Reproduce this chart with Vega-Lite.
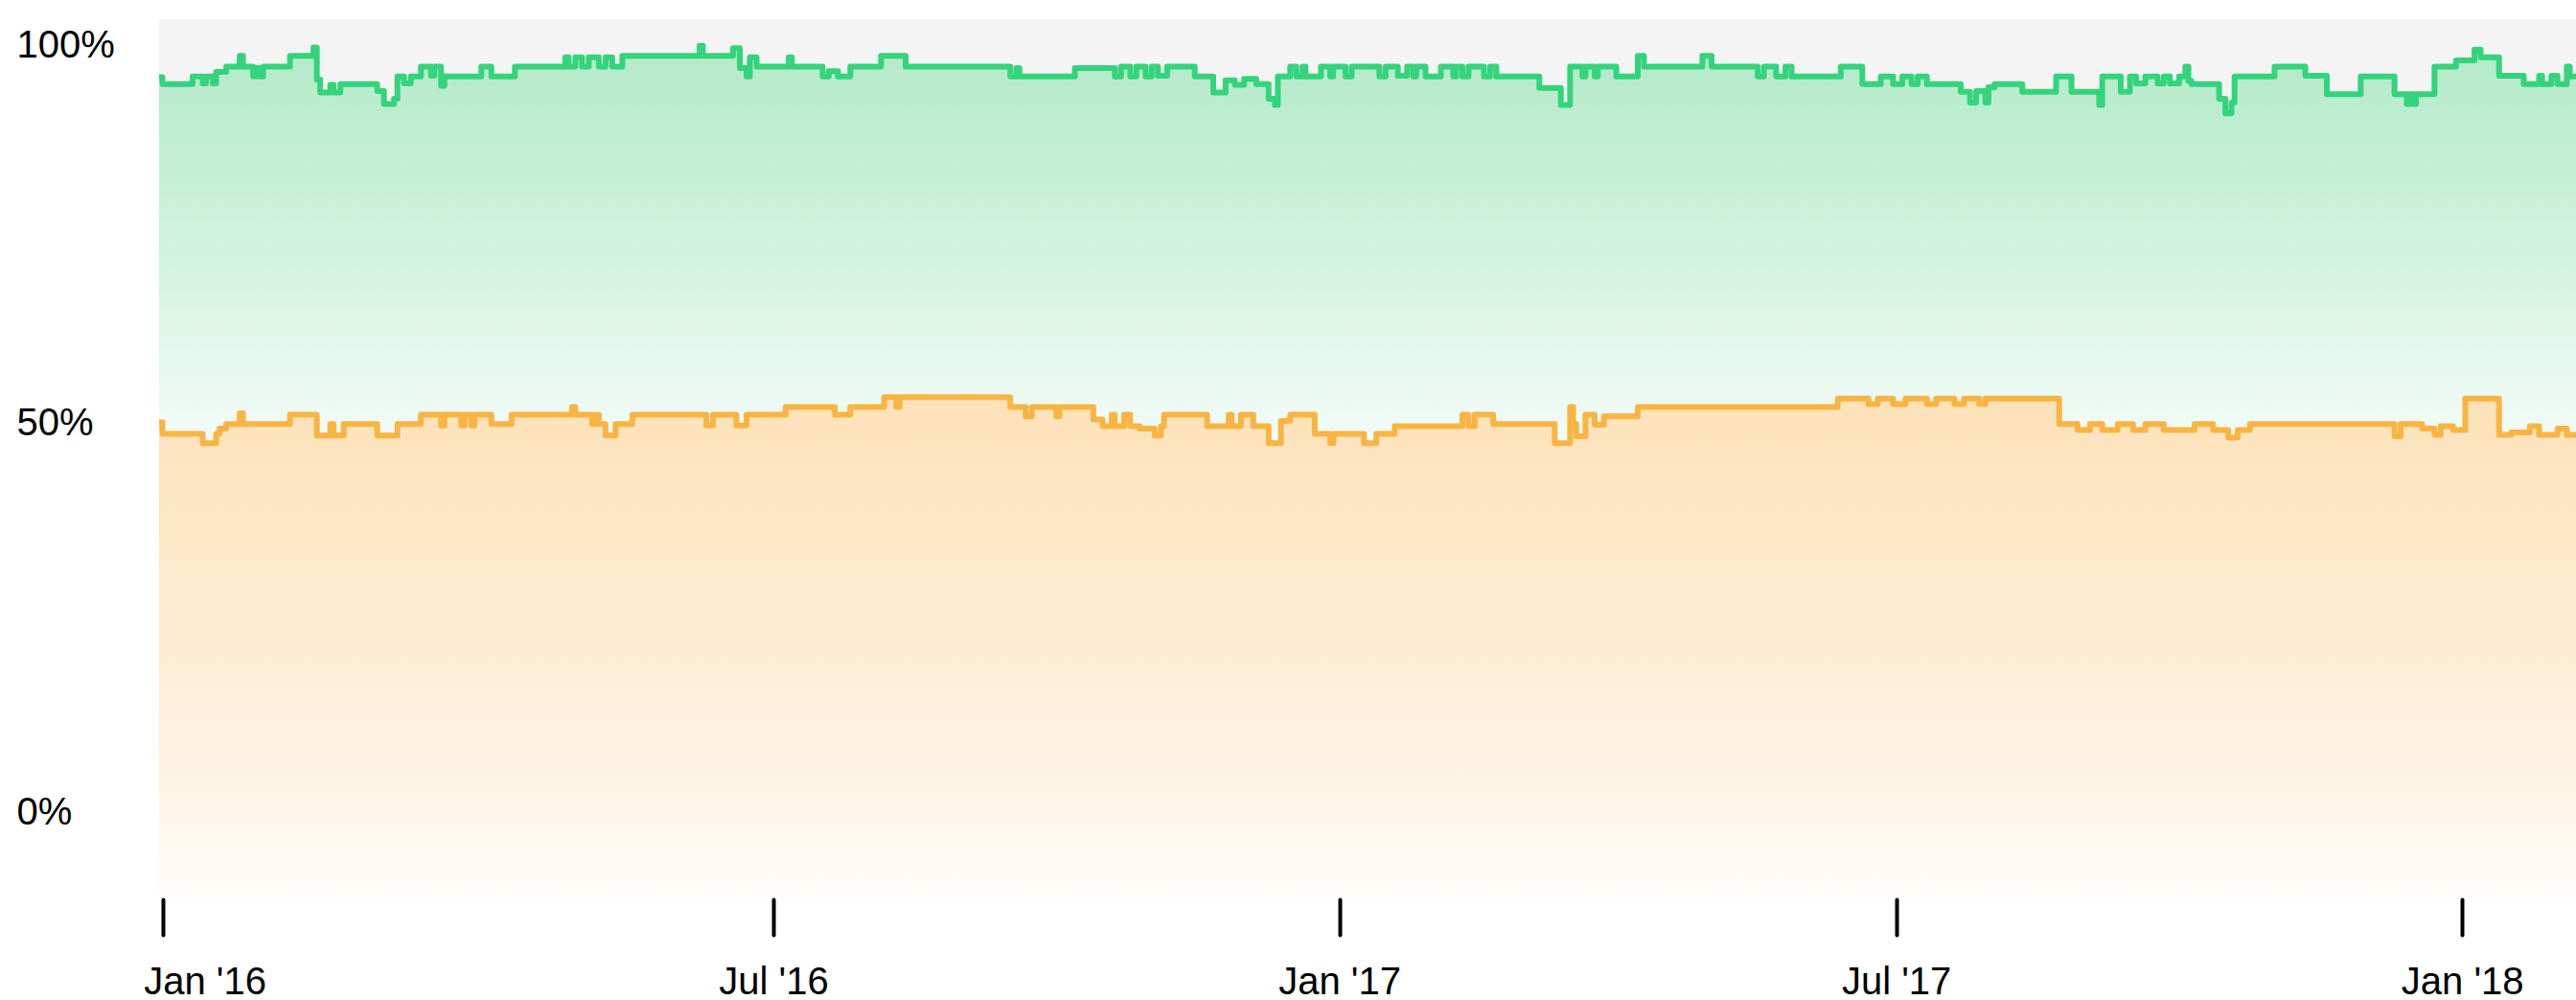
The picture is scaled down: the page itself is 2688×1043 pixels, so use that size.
{
  "$schema": "https://vega.github.io/schema/vega-lite/v6.json",
  "autosize": "none",
  "width": 2522,
  "height": 916,
  "padding": {"left": 166, "top": 20, "right": 0, "bottom": 107},
  "background": "#ffffff",
  "config": {
    "view": {"fill": "#f4f4f4", "stroke": null},
    "axis": {"grid": false, "domain": false, "title": null, "labelFont": "Liberation Sans", "labelFontSize": 40, "labelColor": "#000000"}
  },
  "datasets": {
    "green": [
      {"d":"2015/12/31","v":95.8},{"d":"2016/01/01","v":94.9},{"d":"2016/01/10","v":95.9},{"d":"2016/01/13","v":95.0},{"d":"2016/01/14","v":95.9},{"d":"2016/01/16","v":95.0},{"d":"2016/01/17","v":96.5},{"d":"2016/01/20","v":97.2},{"d":"2016/01/24","v":98.6},{"d":"2016/01/25","v":97.2},{"d":"2016/01/28","v":95.9},{"d":"2016/01/29","v":97.0},{"d":"2016/01/30","v":95.9},{"d":"2016/01/31","v":97.2},
      {"d":"2016/02/08","v":98.6},{"d":"2016/02/15","v":99.7},{"d":"2016/02/16","v":95.5},{"d":"2016/02/17","v":93.8},{"d":"2016/02/20","v":94.8},{"d":"2016/02/21","v":93.8},{"d":"2016/02/23","v":94.9},
      {"d":"2016/03/05","v":94.0},{"d":"2016/03/07","v":92.3},{"d":"2016/03/10","v":93.0},{"d":"2016/03/11","v":95.9},{"d":"2016/03/13","v":95.0},{"d":"2016/03/15","v":95.9},{"d":"2016/03/18","v":97.2},{"d":"2016/03/21","v":96.0},{"d":"2016/03/22","v":97.2},{"d":"2016/03/24","v":94.7},{"d":"2016/03/25","v":95.9},
      {"d":"2016/04/05","v":97.2},{"d":"2016/04/08","v":95.9},{"d":"2016/04/15","v":97.2},{"d":"2016/04/30","v":98.4},{"d":"2016/05/01","v":97.2},{"d":"2016/05/03","v":98.4},{"d":"2016/05/05","v":97.2},{"d":"2016/05/07","v":98.4},{"d":"2016/05/10","v":97.2},{"d":"2016/05/12","v":98.4},{"d":"2016/05/14","v":97.2},{"d":"2016/05/17","v":98.6},
      {"d":"2016/06/09","v":99.9},{"d":"2016/06/10","v":98.6},{"d":"2016/06/19","v":99.6},{"d":"2016/06/21","v":97.0},{"d":"2016/06/23","v":95.9},{"d":"2016/06/24","v":98.4},{"d":"2016/06/26","v":97.2},
      {"d":"2016/07/06","v":98.4},{"d":"2016/07/07","v":97.2},{"d":"2016/07/17","v":95.9},{"d":"2016/07/19","v":96.6},{"d":"2016/07/22","v":95.9},{"d":"2016/07/26","v":97.2},{"d":"2016/08/05","v":98.6},{"d":"2016/08/13","v":97.2},
      {"d":"2016/09/16","v":95.9},{"d":"2016/09/18","v":97.0},{"d":"2016/09/19","v":95.9},{"d":"2016/10/07","v":97.0},{"d":"2016/10/20","v":95.9},{"d":"2016/10/22","v":97.2},{"d":"2016/10/25","v":95.9},{"d":"2016/10/27","v":97.2},{"d":"2016/10/30","v":95.9},{"d":"2016/11/01","v":97.2},{"d":"2016/11/03","v":96.0},{"d":"2016/11/06","v":97.2},{"d":"2016/11/15","v":95.9},{"d":"2016/11/21","v":93.8},{"d":"2016/11/25","v":95.4},{"d":"2016/11/28","v":94.8},
      {"d":"2016/12/01","v":95.6},{"d":"2016/12/05","v":94.9},{"d":"2016/12/09","v":93.0},{"d":"2016/12/11","v":92.2},{"d":"2016/12/12","v":95.9},{"d":"2016/12/16","v":97.2},{"d":"2016/12/18","v":95.9},{"d":"2016/12/20","v":97.2},{"d":"2016/12/21","v":95.9},{"d":"2016/12/26","v":97.2},{"d":"2016/12/29","v":95.9},{"d":"2016/12/30","v":97.2},
      {"d":"2017/01/03","v":95.9},{"d":"2017/01/05","v":97.2},{"d":"2017/01/14","v":95.9},{"d":"2017/01/16","v":97.2},{"d":"2017/01/20","v":96.0},{"d":"2017/01/23","v":97.2},{"d":"2017/01/25","v":95.9},{"d":"2017/01/26","v":97.2},{"d":"2017/01/29","v":95.9},
      {"d":"2017/02/03","v":97.2},{"d":"2017/02/07","v":95.9},{"d":"2017/02/08","v":97.2},{"d":"2017/02/10","v":95.9},{"d":"2017/02/12","v":97.2},{"d":"2017/02/17","v":95.9},{"d":"2017/02/19","v":97.2},{"d":"2017/02/21","v":95.9},
      {"d":"2017/03/07","v":94.4},{"d":"2017/03/14","v":92.2},{"d":"2017/03/17","v":97.2},{"d":"2017/03/21","v":95.9},{"d":"2017/03/22","v":97.2},{"d":"2017/03/25","v":95.9},{"d":"2017/03/26","v":97.2},
      {"d":"2017/04/01","v":95.9},{"d":"2017/04/08","v":98.6},{"d":"2017/04/10","v":97.2},{"d":"2017/04/29","v":98.6},{"d":"2017/05/02","v":97.2},{"d":"2017/05/17","v":95.9},{"d":"2017/05/19","v":97.2},{"d":"2017/05/23","v":95.9},{"d":"2017/05/26","v":97.2},{"d":"2017/05/28","v":95.9},
      {"d":"2017/06/13","v":97.2},{"d":"2017/06/20","v":94.9},{"d":"2017/06/26","v":95.9},{"d":"2017/06/30","v":94.9},{"d":"2017/07/03","v":95.9},{"d":"2017/07/06","v":94.9},{"d":"2017/07/08","v":95.9},{"d":"2017/07/11","v":94.9},{"d":"2017/07/22","v":93.9},{"d":"2017/07/25","v":92.5},{"d":"2017/07/27","v":94.0},{"d":"2017/07/30","v":92.5},{"d":"2017/07/31","v":94.5},
      {"d":"2017/08/02","v":94.9},{"d":"2017/08/11","v":93.9},{"d":"2017/08/22","v":95.9},{"d":"2017/08/27","v":93.9},{"d":"2017/09/05","v":92.2},{"d":"2017/09/06","v":95.9},{"d":"2017/09/12","v":93.9},{"d":"2017/09/15","v":95.9},{"d":"2017/09/17","v":95.0},{"d":"2017/09/20","v":95.9},{"d":"2017/09/24","v":95.0},{"d":"2017/09/26","v":95.9},{"d":"2017/09/28","v":95.0},
      {"d":"2017/10/01","v":95.9},{"d":"2017/10/03","v":97.2},{"d":"2017/10/04","v":95.3},{"d":"2017/10/05","v":94.9},{"d":"2017/10/14","v":93.0},{"d":"2017/10/16","v":91.1},{"d":"2017/10/18","v":92.5},{"d":"2017/10/19","v":95.9},
      {"d":"2017/11/01","v":97.2},{"d":"2017/11/11","v":96.0},{"d":"2017/11/18","v":93.6},{"d":"2017/11/29","v":95.9},{"d":"2017/12/10","v":93.6},{"d":"2017/12/14","v":92.3},{"d":"2017/12/15","v":93.6},{"d":"2017/12/16","v":92.3},{"d":"2017/12/17","v":93.6},{"d":"2017/12/23","v":97.2},{"d":"2017/12/30","v":98.0},
      {"d":"2018/01/05","v":99.4},{"d":"2018/01/07","v":98.4},{"d":"2018/01/13","v":96.0},{"d":"2018/01/21","v":94.9},{"d":"2018/01/26","v":96.0},{"d":"2018/01/27","v":94.9},{"d":"2018/01/30","v":96.0},{"d":"2018/02/01","v":94.9},{"d":"2018/02/04","v":97.2},{"d":"2018/02/05","v":95.9},{"d":"2018/02/07","v":95.9}
    ],
    "orange": [
      {"d":"2015/12/31","v":50.8},{"d":"2016/01/01","v":49.3},{"d":"2016/01/13","v":48.1},{"d":"2016/01/17","v":49.3},{"d":"2016/01/18","v":50.0},{"d":"2016/01/20","v":50.6},{"d":"2016/01/24","v":52.0},{"d":"2016/01/25","v":50.6},
      {"d":"2016/02/08","v":51.8},{"d":"2016/02/16","v":49.1},{"d":"2016/02/20","v":50.6},{"d":"2016/02/21","v":49.1},{"d":"2016/02/24","v":50.6},{"d":"2016/03/05","v":49.1},{"d":"2016/03/11","v":50.6},{"d":"2016/03/18","v":51.8},{"d":"2016/03/24","v":50.4},{"d":"2016/03/25","v":51.8},{"d":"2016/03/30","v":50.4},{"d":"2016/03/31","v":51.8},
      {"d":"2016/04/02","v":50.4},{"d":"2016/04/03","v":51.8},{"d":"2016/04/08","v":50.6},{"d":"2016/04/14","v":51.8},{"d":"2016/05/02","v":52.8},{"d":"2016/05/03","v":51.8},{"d":"2016/05/08","v":50.6},{"d":"2016/05/09","v":51.8},{"d":"2016/05/10","v":50.6},{"d":"2016/05/12","v":49.1},{"d":"2016/05/15","v":50.6},{"d":"2016/05/20","v":51.8},
      {"d":"2016/06/11","v":50.4},{"d":"2016/06/13","v":51.8},{"d":"2016/06/20","v":50.4},{"d":"2016/06/23","v":51.8},{"d":"2016/07/05","v":52.8},{"d":"2016/07/21","v":51.8},{"d":"2016/07/26","v":52.8},{"d":"2016/08/06","v":54.1},{"d":"2016/08/10","v":52.8},{"d":"2016/08/11","v":54.1},
      {"d":"2016/09/16","v":52.8},{"d":"2016/09/21","v":51.6},{"d":"2016/09/23","v":52.8},{"d":"2016/10/01","v":51.6},{"d":"2016/10/02","v":52.8},{"d":"2016/10/13","v":51.2},{"d":"2016/10/16","v":50.3},{"d":"2016/10/19","v":51.8},{"d":"2016/10/20","v":50.3},{"d":"2016/10/23","v":51.8},{"d":"2016/10/25","v":50.3},{"d":"2016/10/28","v":50.0},
      {"d":"2016/11/02","v":49.1},{"d":"2016/11/04","v":50.3},{"d":"2016/11/05","v":51.8},{"d":"2016/11/19","v":50.3},{"d":"2016/11/26","v":51.8},{"d":"2016/11/27","v":50.3},{"d":"2016/11/30","v":51.8},{"d":"2016/12/04","v":50.3},{"d":"2016/12/09","v":48.1},{"d":"2016/12/13","v":51.0},{"d":"2016/12/16","v":51.8},{"d":"2016/12/24","v":49.3},{"d":"2016/12/29","v":48.1},{"d":"2016/12/30","v":49.3},
      {"d":"2017/01/09","v":48.1},{"d":"2017/01/13","v":49.3},{"d":"2017/01/19","v":50.3},{"d":"2017/02/10","v":51.8},{"d":"2017/02/12","v":50.3},{"d":"2017/02/14","v":51.8},{"d":"2017/02/20","v":50.6},
      {"d":"2017/03/12","v":48.1},{"d":"2017/03/17","v":52.8},{"d":"2017/03/18","v":50.6},{"d":"2017/03/19","v":49.0},{"d":"2017/03/22","v":51.8},{"d":"2017/03/25","v":50.5},{"d":"2017/03/28","v":51.6},{"d":"2017/04/08","v":52.8},
      {"d":"2017/06/12","v":53.9},{"d":"2017/06/22","v":53.2},{"d":"2017/06/25","v":53.9},{"d":"2017/06/30","v":53.2},{"d":"2017/07/04","v":53.9},{"d":"2017/07/11","v":53.2},{"d":"2017/07/14","v":53.9},{"d":"2017/07/20","v":53.2},{"d":"2017/07/23","v":53.9},{"d":"2017/07/28","v":53.2},{"d":"2017/07/30","v":53.9},
      {"d":"2017/08/23","v":50.6},{"d":"2017/08/29","v":49.8},{"d":"2017/09/02","v":50.6},{"d":"2017/09/06","v":49.8},{"d":"2017/09/11","v":50.6},{"d":"2017/09/16","v":49.8},{"d":"2017/09/20","v":50.6},{"d":"2017/09/26","v":49.8},{"d":"2017/10/06","v":50.6},{"d":"2017/10/12","v":49.8},{"d":"2017/10/17","v":48.8},{"d":"2017/10/20","v":49.8},{"d":"2017/10/24","v":50.6},
      {"d":"2017/12/10","v":49.0},{"d":"2017/12/12","v":50.6},{"d":"2017/12/19","v":50.0},{"d":"2017/12/23","v":49.2},{"d":"2017/12/25","v":50.3},{"d":"2017/12/29","v":49.8},
      {"d":"2018/01/02","v":53.9},{"d":"2018/01/13","v":49.2},{"d":"2018/01/17","v":49.5},{"d":"2018/01/23","v":50.3},{"d":"2018/01/26","v":49.2},{"d":"2018/02/01","v":50.0},{"d":"2018/02/04","v":49.2},{"d":"2018/02/07","v":49.2}
    ]
  },
  "encoding": {
    "x": {
      "field": "d",
      "type": "temporal",
      "scale": {
        "type": "time",
        "domain": {"expr": "[datetime(2015, 11, 31), datetime(2016, 6, 1), datetime(2018, 1, 7)]"},
        "range": [0, 641, 2522],
        "nice": false
      },
      "axis": {
        "values": [{"year": 2016, "month": 1, "date": 1}, {"year": 2016, "month": 7, "date": 1}, {"year": 2017, "month": 1, "date": 1}, {"year": 2017, "month": 7, "date": 1}, {"year": 2018, "month": 1, "date": 1}],
        "format": "%b '%y",
        "ticks": true,
        "tickColor": "#000000",
        "tickWidth": 4,
        "tickSize": 37,
        "tickCap": "round",
        "offset": 2,
        "labelPadding": 29,
        "labelFlush": false,
        "labelOffset": {"condition": {"test": "year(datum.value) == 2016 && month(datum.value) == 0", "value": 44}, "value": 0}
      }
    },
    "y": {
      "field": "v",
      "type": "quantitative",
      "scale": {"domain": [-11.125, 103.375], "nice": false, "zero": false},
      "axis": {
        "values": [0, 50, 100],
        "labelExpr": "datum.value + '%'",
        "ticks": false,
        "tickSize": 0,
        "labelAlign": "left",
        "labelBaseline": "middle",
        "labelPadding": 149,
        "labelOffset": {"condition": {"test": "datum.value == 50", "value": -6}, "value": 0}
      }
    }
  },
  "layer": [
    {
      "data": {"name": "green"},
      "mark": {
        "type": "area",
        "interpolate": "step-after",
        "clip": true,
        "fill": {"gradient": "linear", "x1": 0, "y1": 0, "x2": 0, "y2": 1, "stops": [{"offset": 0, "color": "#b3e9c7"}, {"offset": 0.25, "color": "#d2f3e0"}, {"offset": 0.45, "color": "#f1fbf6"}, {"offset": 1, "color": "#ffffff"}]}
      },
      "encoding": {"y2": {"datum": -11.125}}
    },
    {
      "data": {"name": "orange"},
      "mark": {
        "type": "area",
        "interpolate": "step-after",
        "clip": true,
        "fill": {"gradient": "linear", "x1": 0, "y1": 0, "x2": 0, "y2": 1, "stops": [{"offset": 0, "color": "#fce2b9"}, {"offset": 0.5, "color": "#fdecd3"}, {"offset": 0.82, "color": "#fef5e9"}, {"offset": 1, "color": "#fffdfa"}]}
      },
      "encoding": {"y2": {"datum": -11.125}}
    },
    {
      "data": {"name": "green"},
      "mark": {"type": "line", "interpolate": "step-after", "clip": true, "stroke": "#33d47b", "strokeWidth": 6, "strokeJoin": "round"},
      "encoding": {}
    },
    {
      "data": {"name": "orange"},
      "mark": {"type": "line", "interpolate": "step-after", "clip": true, "stroke": "#f9b543", "strokeWidth": 6, "strokeJoin": "round"},
      "encoding": {}
    }
  ]
}
